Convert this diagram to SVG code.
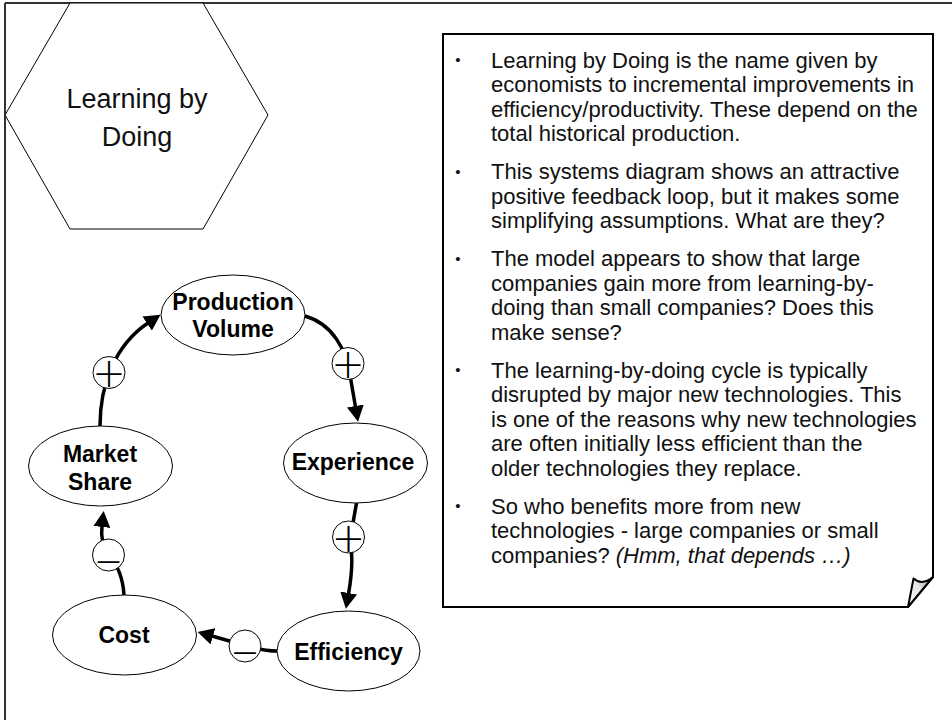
<svg xmlns="http://www.w3.org/2000/svg" width="952" height="720" viewBox="0 0 952 720">
  <defs>
    <marker id="arrow" viewBox="0 0 16 17" markerWidth="16" markerHeight="17" markerUnits="userSpaceOnUse" refX="1" refY="8.5" orient="auto">
      <path d="M0,0 L16,8.5 L0,17 Z" fill="#000"/>
    </marker>
    <linearGradient id="curl" x1="0" y1="1" x2="1" y2="0">
      <stop offset="0" stop-color="#ffffff"/>
      <stop offset="0.55" stop-color="#e6e6e6"/>
      <stop offset="1" stop-color="#8a8a8a"/>
    </linearGradient>
    <style>
      .frame { fill: none; stroke: #333; stroke-width: 2; }
      .hex { fill: #fff; stroke: #000; stroke-width: 1; }
      .title { font-family: "Liberation Sans", Arial, sans-serif; font-size: 27px; fill: #111; text-anchor: middle; }
      .note { fill: #fff; stroke: #000; stroke-width: 2; stroke-linejoin: miter; }
      .body { font-family: "Liberation Sans", Arial, sans-serif; font-size: 22px; fill: #111; }
      .bullet { font-family: "Liberation Sans", Arial, sans-serif; font-size: 15px; fill: #111; text-anchor: middle; }
      .node ellipse { fill: #fff; stroke: #000; stroke-width: 1; }
      .label { font-family: "Liberation Sans", Arial, sans-serif; font-size: 23px; font-weight: bold; fill: #000; text-anchor: middle; }
      .link { fill: none; stroke: #000; stroke-width: 3.5; stroke-linecap: butt; }
      .pol circle { fill: #fff; stroke: #000; stroke-width: 1; }
      .sign { font-family: "DejaVu Sans", "Liberation Sans", sans-serif; font-weight: 200; font-size: 40px; fill: #000; text-anchor: middle; }
    </style>
  </defs>

  <rect width="952" height="720" fill="#fff"/>

  <!-- page frame: top and left rules -->
  <path class="frame" d="M5,3 H952 M5,3 V720"/>

  <!-- title hexagon -->
  <g id="title">
    <polygon class="hex" points="70,3 203,3 268,115 203,229 70,229 5,115"/>
    <text class="title" x="137" y="108">Learning by</text>
    <text class="title" x="137" y="146">Doing</text>
  </g>

  <!-- discussion note with curled corner -->
  <g id="notes">
    <path class="note" d="M443,34 H933 V577 L908,607 H443 Z"/>
    <path d="M908,607 L913.5,578.5 Q922,586 933,577 Z" fill="url(#curl)" stroke="#000" stroke-width="2" stroke-linejoin="round"/>
    <g class="bullet">
      <text x="458" y="65">•</text>
      <text x="458" y="176.5">•</text>
      <text x="458" y="263.5">•</text>
      <text x="458" y="375">•</text>
      <text x="458" y="511">•</text>
    </g>
    <g class="body">
      <text x="491" y="67.5">Learning by Doing is the name given by</text>
      <text x="491" y="92">economists to incremental improvements in</text>
      <text x="491" y="116.5">efficiency/productivity. These depend on the</text>
      <text x="491" y="141">total historical production.</text>
      <text x="491" y="179">This systems diagram shows an attractive</text>
      <text x="491" y="203.5">positive feedback loop, but it makes some</text>
      <text x="491" y="228">simplifying assumptions. What are they?</text>
      <text x="491" y="266">The model appears to show that large</text>
      <text x="491" y="290.5">companies gain more from learning-by-</text>
      <text x="491" y="315">doing than small companies? Does this</text>
      <text x="491" y="339.5">make sense?</text>
      <text x="491" y="377.5">The learning-by-doing cycle is typically</text>
      <text x="491" y="402">disrupted by major new technologies. This</text>
      <text x="491" y="426.5">is one of the reasons why new technologies</text>
      <text x="491" y="451">are often initially less efficient than the</text>
      <text x="491" y="475.5">older technologies they replace.</text>
      <text x="491" y="513.5">So who benefits more from new</text>
      <text x="491" y="538">technologies - large companies or small</text>
      <text x="491" y="562.5">companies? <tspan font-style="italic">(Hmm, that depends …)</tspan></text>
    </g>
  </g>

  <!-- causal loop: links with polarity markers -->
  <g id="connectors">
    <path class="link" d="M100,426 C100,385 115,345 148,323" marker-end="url(#arrow)"/>
    <path class="link" d="M305,316 C333,324 346,350 350,375 L355.5,407" marker-end="url(#arrow)"/>
    <path class="link" d="M356.5,503 L350,540 C354,560 351,580 348.5,594" marker-end="url(#arrow)"/>
    <path class="link" d="M277,651 C262,651 250,647 240,644 L212,636" marker-end="url(#arrow)"/>
    <path class="link" d="M124,595 C123,578 118,565 108,553 C102,545 101,535 102,526" marker-end="url(#arrow)"/>
    <g class="pol">
      <circle cx="109" cy="372.5" r="16"/>
      <text class="sign" x="109" y="387">+</text>
      <circle cx="348" cy="363.5" r="16"/>
      <text class="sign" x="348" y="378">+</text>
      <circle cx="348.5" cy="537" r="16"/>
      <text class="sign" x="348.5" y="551.5">+</text>
      <circle cx="245" cy="646" r="16"/>
      <text class="sign" x="245" y="664" textLength="27" lengthAdjust="spacingAndGlyphs">–</text>
      <circle cx="108.5" cy="555" r="16"/>
      <text class="sign" x="108.5" y="573" textLength="27" lengthAdjust="spacingAndGlyphs">–</text>
    </g>
  </g>

  <!-- causal loop nodes -->
  <g id="production-volume" class="node">
    <ellipse cx="233" cy="315" rx="72" ry="40"/>
    <text class="label" x="233" y="310">Production</text>
    <text class="label" x="233" y="337">Volume</text>
  </g>
  <g id="experience" class="node">
    <ellipse cx="355.5" cy="463" rx="72" ry="40"/>
    <text class="label" x="353" y="470">Experience</text>
  </g>
  <g id="efficiency" class="node">
    <ellipse cx="348.5" cy="651" rx="71.5" ry="40"/>
    <text class="label" x="348.5" y="660">Efficiency</text>
  </g>
  <g id="cost" class="node">
    <ellipse cx="124.5" cy="635" rx="72" ry="40"/>
    <text class="label" x="124" y="643">Cost</text>
  </g>
  <g id="market-share" class="node">
    <ellipse cx="100.5" cy="466" rx="72" ry="40"/>
    <text class="label" x="100" y="461.5">Market</text>
    <text class="label" x="100" y="490">Share</text>
  </g>
</svg>
